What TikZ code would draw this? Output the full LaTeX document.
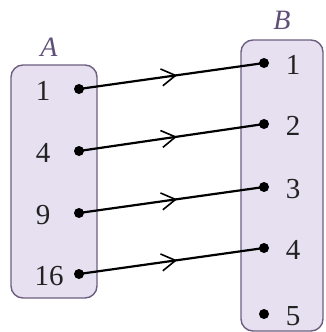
\documentclass[tikz,border=0pt]{standalone}
\usepackage{fontspec}
\setmainfont{Liberation Serif}
\usetikzlibrary{arrows.meta,decorations.markings}
\definecolor{boxfill}{HTML}{E6E0F0}
\definecolor{boxdraw}{HTML}{6E5F80}
\definecolor{setlbl}{HTML}{5E4E78}
\definecolor{numcol}{HTML}{222222}
\begin{document}
\begin{tikzpicture}[x=1pt,y=-1pt,
  setbox/.style={draw=boxdraw,fill=boxfill,line width=1.4pt,rounded corners=12pt},
  num/.style={font=\fontsize{29}{31}\selectfont,inner sep=0pt,text=numcol},
  setname/.style={font=\fontsize{28}{30}\selectfont\itshape,inner sep=0pt,text=setlbl},
  dot/.style={circle,fill=black,inner sep=0pt,minimum size=10pt},
  mapline/.style={line width=2.2pt,postaction={decorate},
    decoration={markings,mark=at position 0.53 with {\arrow{Straight Barb[length=14pt,width=17pt,line width=1.6pt]}}}}]
\useasboundingbox (0,0) rectangle (325,332);
\draw[setbox] (11,65) rectangle (97,298);
\draw[setbox] (241,40) rectangle (323,331);
\node[setname] (A) at (49,47) {A};
\node[setname] (B) at (282,20) {B};
% set A
\node[dot] (a1) at (79,89) {};
\node[dot] (a4) at (79,151) {};
\node[dot] (a9) at (79,213) {};
\node[dot] (a16) at (79,274) {};
\node[num] (la1) at (43,91) {1};
\node[num] (la4) at (43,153) {4};
\node[num] (la9) at (43,215) {9};
\node[num] (la16) at (49,276) {16};
% set B
\node[dot] (b1) at (264,63) {};
\node[dot] (b2) at (264,124) {};
\node[dot] (b3) at (264,187) {};
\node[dot] (b4) at (264,248) {};
\node[dot] (b5) at (264,314) {};
\node[num] (lb1) at (293,65) {1};
\node[num] (lb2) at (293,126) {2};
\node[num] (lb3) at (293,189) {3};
\node[num] (lb4) at (293,250) {4};
\node[num] (lb5) at (293,316) {5};
% arrows
\draw[mapline] (a1.center) -- (b1.center);
\draw[mapline] (a4.center) -- (b2.center);
\draw[mapline] (a9.center) -- (b3.center);
\draw[mapline] (a16.center) -- (b4.center);
\end{tikzpicture}
\end{document}
